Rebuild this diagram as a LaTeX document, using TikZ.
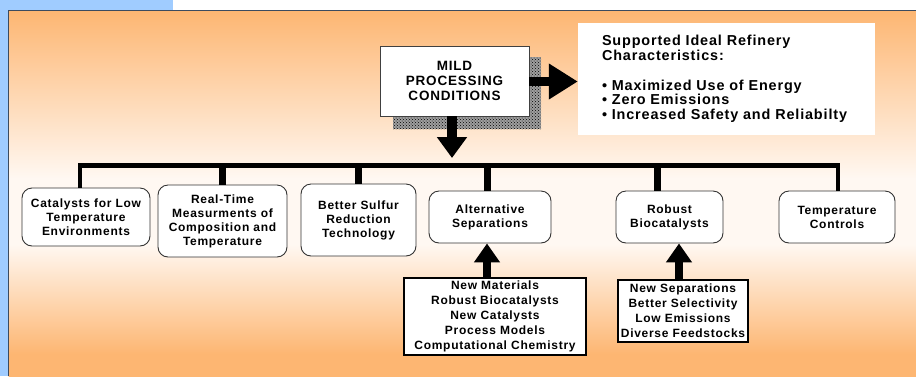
\documentclass[tikz,border=0pt]{standalone}
\usepackage{fontspec}
\setmainfont{Liberation Sans}[LetterSpace=6]
\usetikzlibrary{arrows.meta,patterns}
\definecolor{bgblue}{RGB}{160,204,255}
\definecolor{orng}{RGB}{253,182,114}
\definecolor{lite}{RGB}{255,248,242}
\definecolor{framec}{RGB}{60,75,95}
\pgfdeclareverticalshading{bgshade}{100bp}{color(0bp)=(orng); color(28bp)=(orng); color(43bp)=(lite); color(52bp)=(lite); color(75bp)=(orng); color(100bp)=(orng)}
\begin{document}
\begin{tikzpicture}[x=1pt,y=-1pt,
  boxtxt/.style={font=\fontsize{12}{14}\selectfont\bfseries, align=center},
  rbox/.style={boxtxt, draw=black!80, line width=0.9pt, fill=white, rounded corners=10pt, inner sep=0pt},
  subbox/.style={font=\fontsize{12}{15}\selectfont\bfseries, align=center, draw=black, line width=2pt, fill=white, inner sep=0pt},
  bar/.style={line width=4.5pt},
  drop/.style={line width=7pt},
  bigarrow/.style={line width=8pt, -{Triangle[length=19pt,width=25pt]}},
]
\useasboundingbox (0,0) rectangle (916,376);
% background
\fill[bgblue] (0,0) rectangle (916,376);
\fill[white] (173,0) rectangle (916,10);
\shade[shading=bgshade] (8.5,10.5) rectangle (916,376);
\draw[framec, line width=1.5pt] (8.5,376) -- (8.5,10.5) -- (916,10.5);

% main box with shadow
\fill[gray!75] (393,57) rectangle (541,129);
\fill[pattern=crosshatch dots, pattern color=black] (393,57) rectangle (541,129);
\node[draw=black!75, line width=0.9pt, fill=white, minimum width=149pt, minimum height=70pt, inner sep=0pt,
      font=\fontsize{13.5}{15}\selectfont\bfseries, align=center] (mild) at (454.5,81) {MILD\\PROCESSING\\CONDITIONS};

% supported box
\node[fill=white, minimum width=297pt, minimum height=112pt, inner xsep=24pt, text width=249pt, align=left,
      font=\fontsize{14.4}{14.7}\selectfont\bfseries] (sup) at (726.5,79)
  {Supported Ideal Refinery\\Characteristics:\\[14.7pt]%
   \textbullet\ Maximized Use of Energy\\\textbullet\ Zero Emissions\\\textbullet\ Increased Safety and Reliabilty};

% arrows from main box
\draw[line width=9pt, -{Triangle[length=29pt,width=34pt]}] (mild.east |- 0,81.5) -- (sup.west |- 0,81.5);
\coordinate (downtip) at (452,158);
\draw[line width=9.5pt, -{Triangle[length=21pt,width=29pt]}] (mild.south -| downtip) -- (downtip);

% boxes
\node[rbox, minimum width=128pt, minimum height=58pt] (cat) at (86,217) {Catalysts for Low\\Temperature\\Environments};
\node[rbox, minimum width=129pt, minimum height=72pt] (rt) at (222.5,221) {Real-Time\\Measurments of\\Composition and\\Temperature};
\node[rbox, minimum width=115pt, minimum height=72pt] (bs) at (358.5,220) {Better Sulfur\\Reduction\\Technology};
\node[rbox, minimum width=122pt, minimum height=52pt] (alt) at (490,217) {Alternative\\Separations};
\node[rbox, minimum width=107pt, minimum height=52pt] (rob) at (669.5,217) {Robust\\Biocatalysts};
\node[rbox, minimum width=116pt, minimum height=52pt] (tc) at (837,217) {Temperature\\Controls};

% bar
\coordinate (barL) at (80,165.5);
\coordinate (barR) at (838,165.5);
\draw[bar] (cat.north -| barL) -- (barL) -- (barR) -- (tc.north -| barR);
\draw[drop] (rt.north |- barL) -- (rt.north);
\draw[drop] (bs.north |- barL) -- (bs.north);
\draw[drop] ([xshift=-3pt]alt.north |- barL) -- ([xshift=-3pt]alt.north);
\draw[drop] ([xshift=-12.5pt]rob.north |- barL) -- ([xshift=-12.5pt]rob.north);

% sub boxes
\node[subbox, minimum width=182pt, minimum height=77pt] (altsub) at (495,316.5)
  {New Materials\\Robust Biocatalysts\\New Catalysts\\Process Models\\Computational Chemistry};
\node[subbox, minimum width=130pt, minimum height=62pt] (robsub) at (683,311)
  {New Separations\\Better Selectivity\\Low Emissions\\Diverse Feedstocks};

\draw[bigarrow] ([xshift=-8pt]altsub.north) -- ([xshift=-3pt]alt.south);
\draw[bigarrow] ([xshift=-4pt]robsub.north) -- ([xshift=9.5pt]rob.south);
\end{tikzpicture}
\end{document}
